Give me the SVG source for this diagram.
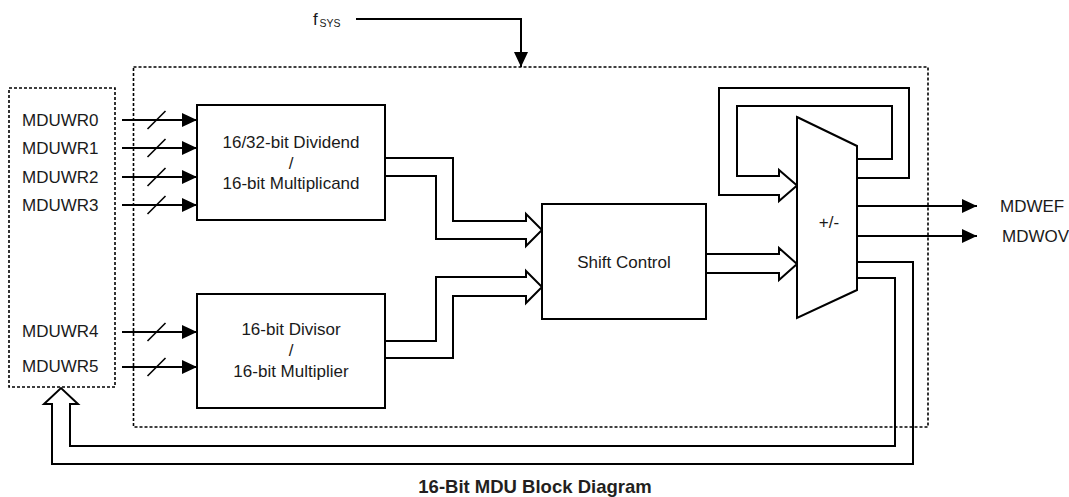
<svg xmlns="http://www.w3.org/2000/svg" width="1069" height="497" viewBox="0 0 1069 497">
<defs>
<marker id="arr" viewBox="0 0 15 14" refX="15" refY="7" markerWidth="15" markerHeight="14" markerUnits="userSpaceOnUse" orient="auto">
<path d="M0,0 L15,7 L0,14 z" fill="#000"/>
</marker>
</defs>
<style>
text{font-family:"Liberation Sans",Arial,sans-serif;font-size:17px;fill:#1a1a1a}
.box{fill:#fff;stroke:#000;stroke-width:2}
.dot{fill:none;stroke:#000;stroke-width:1.6;stroke-dasharray:3 2}
.ln{fill:none;stroke:#000;stroke-width:2}
.bus{fill:none;stroke:#000;stroke-width:2;stroke-linejoin:miter}
.sl{stroke:#000;stroke-width:1.6}
.mid{text-anchor:middle}
.title{font-weight:bold;font-size:18.5px;fill:#231f20}
</style>
<rect width="1069" height="497" fill="#fff"/>

<g id="frames">
<rect class="dot" x="133.5" y="67" width="794.5" height="360"/>
<rect id="registers" class="dot" x="9" y="88" width="106" height="299"/>
</g>

<g id="connectors">
<path class="ln" d="M356,19 H521 V67" marker-end="url(#arr)"/>
<path class="ln" d="M122,120 H197" marker-end="url(#arr)"/>
<path class="ln" d="M122,148 H197" marker-end="url(#arr)"/>
<path class="ln" d="M122,177 H197" marker-end="url(#arr)"/>
<path class="ln" d="M122,205 H197" marker-end="url(#arr)"/>
<path class="ln" d="M122,332 H197" marker-end="url(#arr)"/>
<path class="ln" d="M122,367 H197" marker-end="url(#arr)"/>
<line class="sl" x1="147.5" y1="129" x2="165.5" y2="111"/>
<line class="sl" x1="147.5" y1="157" x2="165.5" y2="139"/>
<line class="sl" x1="147.5" y1="186" x2="165.5" y2="168"/>
<line class="sl" x1="147.5" y1="214" x2="165.5" y2="196"/>
<line class="sl" x1="147.5" y1="341" x2="165.5" y2="323"/>
<line class="sl" x1="147.5" y1="376" x2="165.5" y2="358"/>
<path class="bus" d="M385,158 H453 V221 H526 V214 L542,230 L526,246 V239 H436 V176 H385"/>
<path class="bus" d="M385,358 H453 V296 H526 V303 L542,287 L526,271 V277 H436 V341 H385"/>
<path class="bus" d="M706,254 H779 V248 L797,264 L779,280 V273 H706"/>
<path class="bus" d="M857,178 H909 V88 H719 V195 H779 V201 L797,185.5 L779,170 V176 H737 V106 H892 V159 H857"/>
<path class="bus" d="M857,262 H913 V464 H52 V404 H44 L61,388 L78,404 H70 V446 H895 V278 H857"/>
<path class="ln" d="M857,206 H977" marker-end="url(#arr)"/>
<path class="ln" d="M857,236 H977" marker-end="url(#arr)"/>
</g>

<g id="fsys"><text x="313" y="25">f<tspan x="319.5" y="27" font-size="10.5">SYS</tspan></text></g>

<g id="reglabels">
<text x="22" y="126">MDUWR0</text>
<text x="22" y="154">MDUWR1</text>
<text x="22" y="183">MDUWR2</text>
<text x="22" y="211">MDUWR3</text>
<text x="22" y="337">MDUWR4</text>
<text x="22" y="372">MDUWR5</text>
</g>

<g id="dividend">
<rect class="box" x="197" y="105" width="188" height="115"/>
<text class="mid" x="291" y="148">16/32-bit Dividend</text>
<text class="mid" x="291" y="168.5">/</text>
<text class="mid" x="291" y="189">16-bit Multiplicand</text>
</g>

<g id="divisor">
<rect class="box" x="197" y="294" width="188" height="114"/>
<text class="mid" x="291" y="335">16-bit Divisor</text>
<text class="mid" x="291" y="356">/</text>
<text class="mid" x="291" y="377">16-bit Multiplier</text>
</g>

<g id="shift">
<rect class="box" x="542" y="204" width="164" height="115"/>
<text class="mid" x="624" y="268">Shift Control</text>
</g>

<g id="alu">
<polygon class="box" points="797,117 857,146 857,290 797,318"/>
<text class="mid" x="829" y="228">+/-</text>
</g>

<g id="outputs">
<text x="1000" y="212">MDWEF</text>
<text x="1002" y="242">MDWOV</text>
</g>

<text class="title mid" x="535" y="493">16-Bit MDU Block Diagram</text>
</svg>
